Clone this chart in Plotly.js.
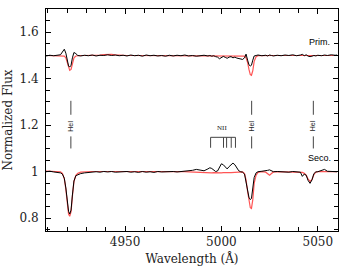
<!DOCTYPE html>
<html>
<head>
<meta charset="utf-8">
<script src="https://cdn.plot.ly/plotly-3.0.1.min.js"></script>
<style>html,body{margin:0;padding:0;background:#fff}#chart{width:344px;height:270px}</style>
</head>
<body>
<div id="chart"></div>
<script>
// Wavelength grid (Å)
const wave = [
  4909, 4911, 4913, 4915, 4916.5, 4917.5, 4918.5, 4919.3, 4920, 4920.7,
  4921.3, 4922, 4922.7, 4923.5, 4924.5, 4925.5, 4927, 4929, 4931, 4933,
  4935, 4937, 4939, 4941, 4943, 4945, 4947, 4949, 4951, 4953,
  4955, 4957, 4959, 4961, 4963, 4965, 4967, 4969, 4971, 4973,
  4975, 4977, 4979, 4981, 4983, 4985, 4987, 4989, 4991, 4993,
  4994, 4995, 4996, 4997, 4998, 4999, 5000, 5001, 5002, 5003,
  5004, 5005, 5006, 5007, 5008, 5009, 5010, 5011, 5012, 5012.8,
  5013.6, 5014.3, 5015, 5015.6, 5016.3, 5017, 5018, 5019, 5021, 5023,
  5024, 5025, 5026, 5027, 5029, 5031, 5033, 5035, 5037, 5039,
  5041, 5042, 5043, 5044, 5045, 5046, 5047, 5048, 5049, 5050,
  5052, 5053.5, 5055, 5057, 5059, 5060
];
// Primary component (offset +0.5): observed and model
const primObs = [
  1.498, 1.501, 1.499, 1.500, 1.503, 1.515, 1.527, 1.510, 1.478, 1.455,
  1.450, 1.458, 1.490, 1.513, 1.508, 1.500, 1.498, 1.501, 1.499, 1.502,
  1.498, 1.501, 1.500, 1.503, 1.500, 1.502, 1.499, 1.501, 1.498, 1.502,
  1.499, 1.501, 1.497, 1.502, 1.499, 1.501, 1.498, 1.500, 1.497, 1.501,
  1.498, 1.501, 1.499, 1.502, 1.498, 1.500, 1.497, 1.499, 1.501, 1.498,
  1.500, 1.497, 1.499, 1.495, 1.493, 1.486, 1.490, 1.496, 1.492, 1.488,
  1.493, 1.495, 1.490, 1.493, 1.489, 1.486, 1.484, 1.483, 1.490, 1.506,
  1.480, 1.460, 1.455, 1.458, 1.480, 1.498, 1.500, 1.502, 1.499, 1.501,
  1.498, 1.502, 1.500, 1.498, 1.501, 1.499, 1.502, 1.500, 1.503, 1.499,
  1.502, 1.505, 1.499, 1.503, 1.497, 1.495, 1.497, 1.500, 1.498, 1.501,
  1.499, 1.502, 1.500, 1.503, 1.501, 1.502
];
const primModel = [
  1.500, 1.500, 1.500, 1.500, 1.500, 1.499, 1.497, 1.490, 1.470, 1.448,
  1.436, 1.440, 1.465, 1.490, 1.498, 1.500, 1.500, 1.500, 1.500, 1.501,
  1.501, 1.502, 1.504, 1.506, 1.505, 1.503, 1.501, 1.500, 1.500, 1.500,
  1.500, 1.500, 1.500, 1.500, 1.500, 1.500, 1.500, 1.500, 1.500, 1.500,
  1.500, 1.500, 1.500, 1.500, 1.500, 1.500, 1.500, 1.500, 1.500, 1.500,
  1.500, 1.500, 1.500, 1.500, 1.500, 1.500, 1.500, 1.500, 1.500, 1.500,
  1.500, 1.500, 1.500, 1.500, 1.500, 1.500, 1.500, 1.499, 1.497, 1.490,
  1.470, 1.440, 1.418, 1.415, 1.435, 1.475, 1.495, 1.499, 1.500, 1.500,
  1.500, 1.500, 1.500, 1.500, 1.500, 1.500, 1.500, 1.500, 1.500, 1.500,
  1.500, 1.500, 1.500, 1.500, 1.500, 1.500, 1.500, 1.500, 1.500, 1.500,
  1.500, 1.500, 1.500, 1.500, 1.500, 1.500
];
// Secondary component: observed and model
const secoObs = [
  1.000, 1.002, 0.999, 0.997, 0.995, 0.990, 0.972, 0.930, 0.870, 0.830,
  0.818, 0.835, 0.900, 0.960, 0.983, 0.988, 0.992, 0.995, 0.997, 0.999,
  1.000, 0.998, 1.001, 0.999, 1.001, 0.998, 1.000, 0.999, 1.001, 0.998,
  1.000, 0.997, 1.001, 0.998, 1.000, 0.997, 1.001, 0.999, 1.000, 0.998,
  1.001, 0.999, 1.000, 1.002, 1.004, 1.006, 1.010, 1.006, 1.004, 1.012,
  1.017, 1.014, 1.006, 1.001, 1.003, 1.020, 1.034, 1.030, 1.020, 1.012,
  1.022, 1.032, 1.037, 1.030, 1.018, 1.004, 1.000, 0.998, 0.990, 0.960,
  0.915, 0.890, 0.880, 0.885, 0.930, 0.975, 0.995, 1.000, 1.002, 1.003,
  1.006, 1.008, 1.003, 1.000, 1.001, 0.999, 1.000, 0.998, 1.001, 0.999,
  0.998, 0.980, 0.990, 0.985, 0.962, 0.950, 0.965, 0.992, 0.999, 1.000,
  1.004, 1.010, 1.002, 1.000, 0.999, 1.000
];
const secoModel = [
  1.003, 1.003, 1.003, 1.002, 1.000, 0.993, 0.970, 0.925, 0.860, 0.818,
  0.808, 0.828, 0.895, 0.958, 0.985, 0.993, 0.998, 1.000, 1.001, 1.001,
  1.001, 1.001, 1.001, 1.003, 1.003, 1.002, 1.001, 1.000, 1.000, 1.000,
  1.000, 1.000, 1.000, 1.000, 1.000, 1.000, 1.000, 1.000, 1.000, 1.000,
  1.000, 1.000, 1.000, 1.000, 0.999, 0.998, 0.997, 0.996, 0.995, 0.995,
  0.994, 0.995, 0.996, 0.995, 0.996, 0.995, 0.995, 0.996, 0.995, 0.996,
  0.996, 0.996, 0.997, 0.998, 0.999, 1.000, 1.000, 0.999, 0.992, 0.965,
  0.915, 0.870, 0.845, 0.842, 0.880, 0.950, 0.985, 0.997, 1.000, 0.998,
  0.990, 0.985, 0.992, 0.999, 1.000, 1.000, 1.000, 1.000, 1.000, 1.000,
  0.999, 0.997, 0.993, 0.985, 0.968, 0.958, 0.966, 0.988, 0.998, 1.000,
  1.000, 1.001, 1.000, 1.000, 1.000, 1.000
];
// Line identifications
const heiWaves = [4921.9, 5015.7, 5047.7];
const heiLabel = "HeI";
const niiWaves = [4994.4, 5001.1, 5002.7, 5005.1, 5007.3];
const niiLabel = "NII";
const compLabels = ["Prim.", "Seco."];
const compLabelY = [1.557, 1.06];
const xTitle = "Wavelength (Å)";
const yTitle = "Normalized Flux";

const red = "rgb(255,85,85)";
const traces = [
  {x: wave, y: primModel, mode: "lines", line: {color: red, width: 1.2}},
  {x: wave, y: secoModel, mode: "lines", line: {color: red, width: 1.2}},
  {x: wave, y: primObs, mode: "lines", line: {color: "black", width: 1}},
  {x: wave, y: secoObs, mode: "lines", line: {color: "black", width: 1}}
];

const shapes = [];
const annotations = [];
const markLine = {color: "#444", width: 1};
heiWaves.forEach(w => {
  shapes.push({type: "line", xref: "x", yref: "y", x0: w, x1: w, y0: 1.245, y1: 1.305, line: markLine});
  shapes.push({type: "line", xref: "x", yref: "y", x0: w, x1: w, y0: 1.10, y1: 1.152, line: markLine});
  annotations.push({x: w, y: 1.197, xref: "x", yref: "y", text: heiLabel, showarrow: false,
    textangle: -90, font: {family: "Liberation Sans", size: 7, color: "#222"}});
});
shapes.push({type: "line", xref: "x", yref: "y", x0: niiWaves[0], x1: niiWaves[niiWaves.length - 1],
  y0: 1.148, y1: 1.148, line: markLine});
niiWaves.forEach(w => {
  shapes.push({type: "line", xref: "x", yref: "y", x0: w, x1: w, y0: 1.103, y1: 1.148, line: markLine});
});
annotations.push({x: 5000.5, y: 1.19, xref: "x", yref: "y", text: niiLabel, showarrow: false,
  font: {family: "Liberation Serif", size: 7, color: "#222"}});
compLabels.forEach((t, i) => {
  annotations.push({x: 5051, y: compLabelY[i], xref: "x", yref: "y", text: t, showarrow: false,
    font: {family: "Liberation Sans", size: 9, color: "black"}});
});

const axisCommon = {
  showline: true, linecolor: "black", linewidth: 1, mirror: "allticks",
  ticks: "inside", ticklen: 5, tickcolor: "black", tickwidth: 1,
  showgrid: false, zeroline: false,
  tickfont: {family: "DejaVu Serif", size: 12, color: "#222"}
};

const layout = {
  width: 344, height: 270,
  margin: {l: 46, r: 6, t: 9, b: 39},
  paper_bgcolor: "white", plot_bgcolor: "white",
  showlegend: false,
  xaxis: Object.assign({}, axisCommon, {
    range: [4909, 5060.5], tick0: 4950, dtick: 50,
    minor: {ticks: "inside", dtick: 10, ticklen: 4, tickcolor: "black"},
    title: {text: xTitle, font: {family: "DejaVu Serif", size: 12, color: "#222"}, standoff: 6}
  }),
  yaxis: Object.assign({}, axisCommon, {
    range: [0.745, 1.7], tick0: 0.8, dtick: 0.2,
    minor: {ticks: "inside", dtick: 0.05, ticklen: 4, tickcolor: "black"},
    ticklabelstandoff: 4,
    title: {text: yTitle, font: {family: "DejaVu Serif", size: 12, color: "#222"}, standoff: 4}
  }),
  shapes: shapes,
  annotations: annotations
};

Plotly.newPlot("chart", traces, layout, {staticPlot: true, displayModeBar: false});
</script>
</body>
</html>
